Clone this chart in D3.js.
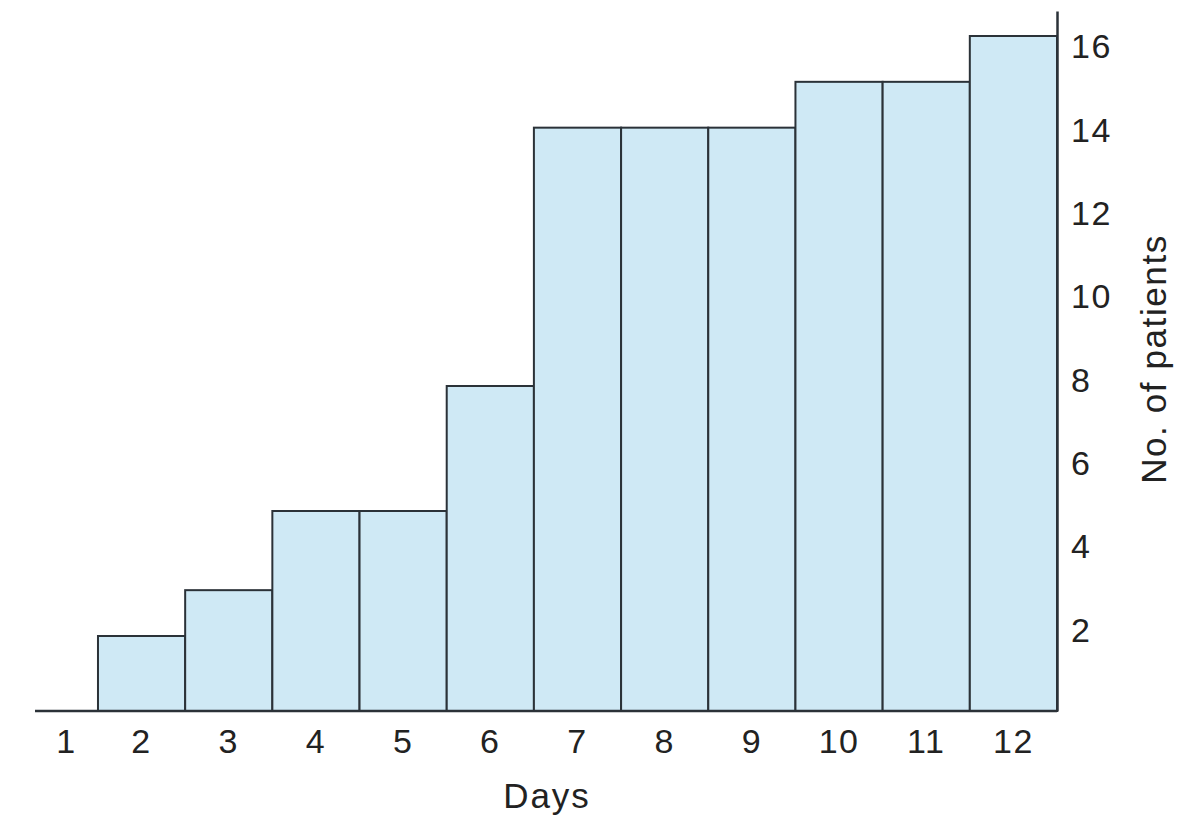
<!DOCTYPE html>
<html>
<head>
<meta charset="utf-8">
<script src="https://cdn.jsdelivr.net/npm/d3@7"></script>
<style>
  html, body { margin: 0; padding: 0; background: #ffffff; }
  svg { display: block; }
  text { font-family: "Liberation Sans", Arial, Helvetica, sans-serif; fill: #222; }
</style>
</head>
<body>
<svg id="chart" width="1178" height="819"></svg>
<script>
// ---- data ----
const days = [1, 2, 3, 4, 5, 6, 7, 8, 9, 10, 11, 12];
const patients = [0, 1.8, 2.9, 4.8, 4.8, 7.8, 14, 14, 14, 15.1, 15.1, 16.2];
const yTicks = [2, 4, 6, 8, 10, 12, 14, 16];
const xTitle = "Days";
const yTitle = "No. of patients";

// ---- layout ----
const svg = d3.select("#chart");
const x = d3.scaleBand().domain(days).range([10.8, 1057]).padding(0);
const y = d3.scaleLinear().domain([0, 16.8]).range([711, 11]);
const baselineStart = 35;

const stroke = "#2b3238";
const fill = "#cfe9f5";
const fontSize = 34;
const letterSpacing = "1.5px";
const fontFamily = '"Liberation Sans", Arial, sans-serif';

// bars
svg.append("g")
  .selectAll("rect")
  .data(days.map((d, i) => ({ day: d, value: patients[i] })).filter(d => d.value > 0))
  .join("rect")
  .attr("x", d => x(d.day))
  .attr("y", d => y(d.value))
  .attr("width", x.bandwidth())
  .attr("height", d => y(0) - y(d.value))
  .attr("fill", fill)
  .attr("stroke", stroke)
  .attr("stroke-width", 2);

// x baseline
svg.append("line")
  .attr("x1", baselineStart).attr("x2", x.range()[1])
  .attr("y1", y(0)).attr("y2", y(0))
  .attr("stroke", stroke).attr("stroke-width", 2.5);

// x axis labels
const xAxis = d3.axisBottom(x).tickSize(0).tickPadding(18);
const gx = svg.append("g").attr("transform", `translate(0,${y(0)})`).call(xAxis);
gx.select(".domain").remove();
// first day's slot is drawn from the start of the baseline to the first bar
gx.selectAll(".tick")
  .filter(d => d === days[0])
  .attr("transform", `translate(${(baselineStart + x(days[1])) / 2},0)`);
gx.selectAll("text")
  .style("font-size", fontSize + "px")
  .style("font-family", fontFamily)
  .style("letter-spacing", letterSpacing)
  .attr("fill", "#222");

// y axis (right)
const yAxis = d3.axisRight(y).tickValues(yTicks).tickSize(0).tickPadding(14);
const gy = svg.append("g").attr("transform", `translate(${x.range()[1]},0)`).call(yAxis);
gy.select(".domain").attr("stroke", stroke).attr("stroke-width", 2.5);
gy.selectAll("text")
  .attr("dy", "0.4em")
  .style("font-size", fontSize + "px")
  .style("font-family", fontFamily)
  .style("letter-spacing", letterSpacing)
  .attr("fill", "#222");

// titles
svg.append("text")
  .attr("x", 547).attr("y", 808)
  .attr("text-anchor", "middle")
  .style("font-size", "35px")
  .style("letter-spacing", "2px")
  .text(xTitle);

svg.append("text")
  .attr("transform", "translate(1166,359) rotate(-90)")
  .attr("text-anchor", "middle")
  .style("font-size", "35px")
  .style("letter-spacing", "1.6px")
  .text(yTitle);
</script>
</body>
</html>
